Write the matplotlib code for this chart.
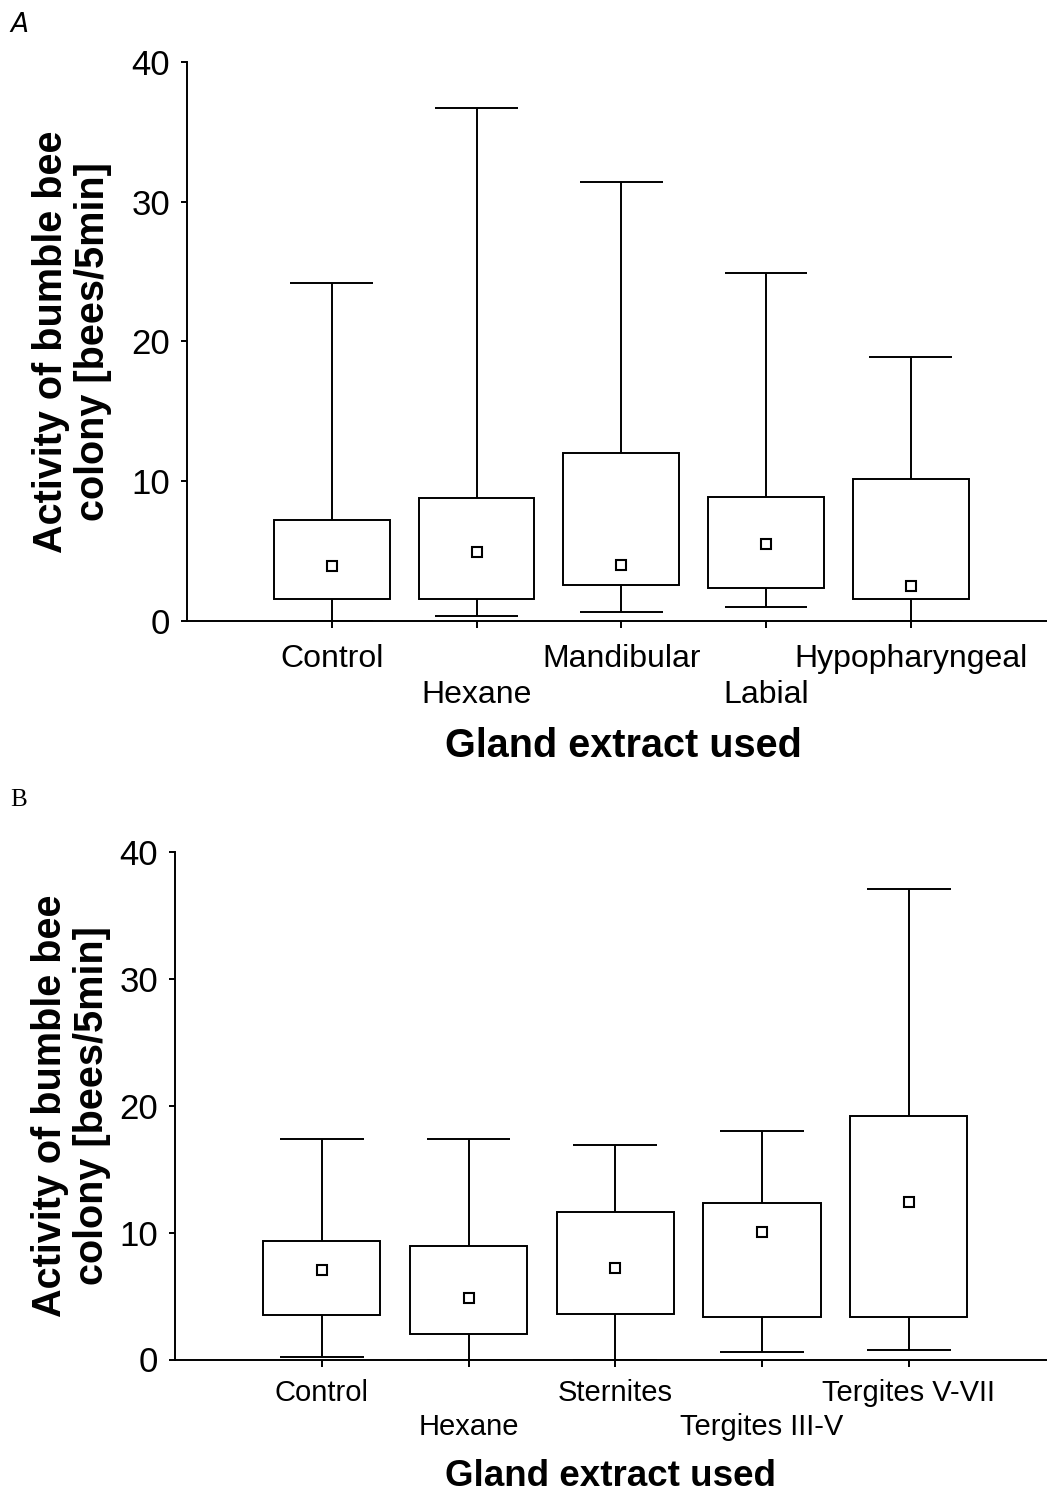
import matplotlib
matplotlib.use("Agg")
import matplotlib.pyplot as plt
import numpy as np

plt.rcParams['font.family'] = ['Liberation Sans', 'DejaVu Sans']

# ---------------- data: panel A ----------------
cats_a = ["Control", "Hexane", "Mandibular", "Labial", "Hypopharyngeal"]
q1_a = [1.53, 1.53, 2.53, 2.36, 1.55]
q3_a = [7.21, 8.77, 12.0, 8.88, 10.15]
lo_a = [0.0, 0.34, 0.6, 1.0, 0.0]
hi_a = [24.2, 36.7, 31.4, 24.9, 18.9]
mean_a = [3.9, 4.92, 4.0, 5.49, 2.46]

# ---------------- data: panel B ----------------
cats_b = ["Control", "Hexane", "Sternites", "Tergites III-V", "Tergites V-VII"]
q1_b = [3.53, 2.03, 3.56, 3.35, 3.35]
q3_b = [9.33, 8.94, 11.64, 12.35, 19.17]
lo_b = [0.22, 0.0, 0.0, 0.61, 0.72]
hi_b = [17.4, 17.4, 16.9, 18.0, 37.1]
mean_b = [7.07, 4.84, 7.23, 10.04, 12.4]

yticks = [0, 10, 20, 30, 40]
ylabel = "Activity of bumble bee\ncolony [bees/5min]"
xlabel = "Gland extract used"

W, H = 1047, 1494
fig = plt.figure(figsize=(W / 100, H / 100), dpi=100)

LW = 1.4
BOXW = 0.8
CAPW = 0.57


def panel(rect, cats, q1, q3, lo, hi, mean, xmax, ylab_x, xlab_xy,
          pad1, pad2, catsize, xlabsize):
    ax = fig.add_axes(rect)
    pos = np.arange(1, len(cats) + 1)
    q1 = np.array(q1); q3 = np.array(q3)
    ax.bar(pos, q3 - q1, bottom=q1, width=BOXW, facecolor="white",
           edgecolor="black", linewidth=LW, zorder=2)
    ax.vlines(pos, q3, hi, color="black", linewidth=LW, zorder=2)
    ax.vlines(pos, lo, q1, color="black", linewidth=LW, zorder=2)
    ax.hlines(hi, pos - CAPW / 2, pos + CAPW / 2, color="black", linewidth=LW, zorder=2)
    ax.hlines(lo, pos - CAPW / 2, pos + CAPW / 2, color="black", linewidth=LW, zorder=2)
    ax.plot(pos, mean, linestyle="none", marker="s", markersize=7.5,
            markerfacecolor="white", markeredgecolor="black", markeredgewidth=1.5, zorder=3)
    ax.set_xlim(0, xmax)
    ax.set_ylim(0, 40)
    ax.set_yticks(yticks)
    ax.set_xticks(pos)
    ax.set_xticklabels(cats, fontsize=catsize)
    ax.tick_params(axis="y", labelsize=25, length=4, width=LW, pad=8, direction="out")
    ax.tick_params(axis="x", length=5, width=LW, direction="out")
    for i, t in enumerate(ax.xaxis.get_major_ticks()):
        t.set_pad(pad1 if i % 2 == 0 else pad2)
    for s in ["top", "right"]:
        ax.spines[s].set_visible(False)
    for s in ["left", "bottom"]:
        ax.spines[s].set_linewidth(LW)
    ax.set_ylabel(ylabel, fontsize=28.5, fontweight="bold", ha="center", va="center",
                  linespacing=1.15)
    ax.yaxis.set_label_coords(ylab_x, 0.5)
    ax.set_xlabel(xlabel, fontsize=xlabsize, fontweight="bold", va="center")
    ax.xaxis.set_label_coords(*xlab_xy)
    return ax


# panel A: axes from x=187px to right edge, y from 62px to 620.7px
axA = panel([187 / W, 1 - 620.7 / H, (W - 187) / W, (620.7 - 62) / H],
            cats_a, q1_a, q3_a, lo_a, hi_a, mean_a, (W - 187) / 144.75,
            (72 - 187) / 860, (0.507, (620.7 - 746) / 558.7),
            12.0, 37.9, 23, 28.5)

# panel B: axes from x=175px, y from 852px to 1359.5px
axB = panel([175 / W, 1 - 1359.5 / H, (W - 175) / W, (1359.5 - 852) / H],
            cats_b, q1_b, q3_b, lo_b, hi_b, mean_b, (W - 175) / 146.75,
            (71 - 175) / 872, (0.499, (1359.5 - 1476) / 507.5),
            9.2, 33.7, 21, 26.5)

fig.text(10 / W, 1 - 12 / H, "A", fontsize=19, style="italic",
         family="DejaVu Sans", ha="left", va="top")
fig.text(10 / W, 1 - 789 / H, "B", fontsize=18, family="Liberation Serif",
         ha="left", va="top")

fig.savefig("out.png", dpi=100)
